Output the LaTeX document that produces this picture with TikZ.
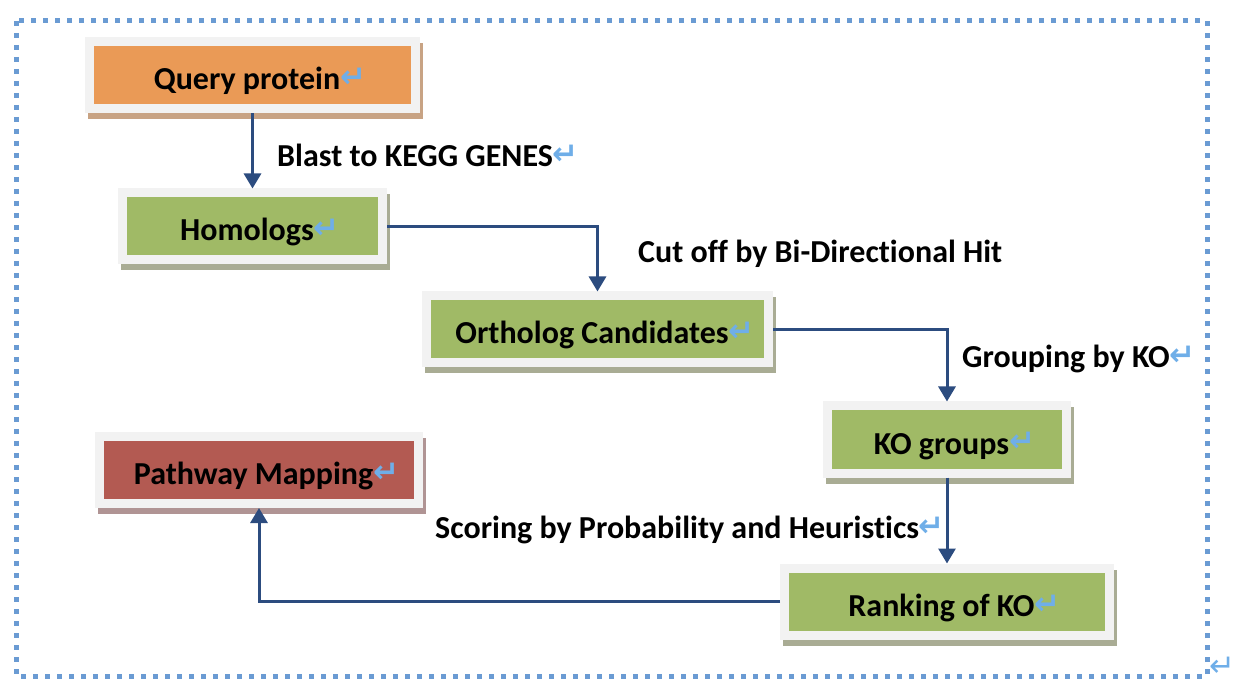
\documentclass[tikz,border=0pt]{standalone}
\usepackage{fontspec}
\setmainfont{Carlito}[Ligatures=NoCommon]
\newfontfamily\markfont{DejaVu Sans}
\usepackage{xcolor}
\usetikzlibrary{positioning, calc, shadows, arrows.meta}
\definecolor{keggorange}{RGB}{234, 154, 86}
\definecolor{keggorangeshade}{RGB}{200, 163, 132}
\definecolor{kegggreen}{RGB}{160, 186, 102}
\definecolor{kegggreenshade}{RGB}{169, 172, 148}
\definecolor{keggred}{RGB}{179, 90, 82}
\definecolor{keggredshade}{RGB}{176, 148, 148}
\definecolor{framegrey}{RGB}{242, 242, 242}
\definecolor{flowblue}{RGB}{44, 76, 127}
\definecolor{dotblue}{RGB}{106, 155, 211}
\definecolor{markblue}{RGB}{111, 174, 232}
\newcommand{\retmark}{\raisebox{2pt}{\markfont\fontsize{31}{31}\selectfont\textcolor{markblue}{↵}}}

\begin{document}
\begin{tikzpicture}[x=1pt, y=-1pt,
        box/.style={rectangle, draw=framegrey, line width=9pt, minimum height=67pt, inner sep=0pt,
            text height=29pt, text depth=0pt, font=\fontsize{32}{38}\selectfont\bfseries,
            execute at begin node={\hspace*{15pt}}},
        orangebox/.style={box, fill=keggorange, drop shadow={shadow xshift=3pt, shadow yshift=-6pt,
            fill=keggorangeshade, draw=keggorangeshade, line width=9pt, opacity=1}},
        greenbox/.style={box, fill=kegggreen, drop shadow={shadow xshift=3pt, shadow yshift=-6pt,
            fill=kegggreenshade, draw=kegggreenshade, line width=9pt, opacity=1}},
        redbox/.style={box, fill=keggred, drop shadow={shadow xshift=3pt, shadow yshift=-6pt,
            fill=keggredshade, draw=keggredshade, line width=9pt, opacity=1}},
        lbl/.style={inner sep=0pt, anchor=base west, font=\fontsize{32}{38}\selectfont\bfseries},
        flow/.style={draw=flowblue, line width=3pt, -{Triangle[width=17pt, length=15pt]}},
        dotframe/.style={draw=dotblue, line width=5pt, dash pattern=on 5pt off 7pt}]

        \useasboundingbox (0,0) rectangle (1240,692);

        % Frame
        \draw [dotframe] (16,21) rectangle (1207,676);
        \node [inner sep=0pt] (endmark) at (1222,668) {\retmark};

        % Boxes
        \node [orangebox, minimum width=326pt] (query) at (252.5,75.5) {Query protein\retmark};
        \node [greenbox, minimum width=260pt, below=75pt of query] (homologs) {Homologs\retmark};
        \node [greenbox, minimum width=342pt, below right=27pt and 35pt of homologs] (ortholog) {Ortholog Candidates\retmark};
        \node [greenbox, minimum width=239pt, below right=34pt and 50pt of ortholog] (kogroups) {KO groups\retmark};
        \node [greenbox, minimum width=325pt, below=86pt of kogroups] (ranking) {Ranking of KO\retmark};
        \node [redbox, minimum width=319pt] (pathway) at (259,470) {Pathway Mapping\retmark};

        % Arrows
        \path [flow] (query) -- (homologs);
        \path [flow] (homologs.east) -| (ortholog.north);
        \path [flow] (ortholog.east) -| (kogroups.north);
        \path [flow] (kogroups) -- (ranking);
        \path [flow] (ranking.west) -| (pathway.south);

        % Labels
        \node [lbl] (blast) at (277,167) {Blast to KEGG GENES\retmark};
        \node [lbl] (cutoff) at (638,263) {Cut off by Bi-Directional Hit};
        \node [lbl] (grouping) at (962,368) {Grouping by KO\retmark};
        \node [lbl] (scoring) at (435,538) {Scoring by Probability and Heuristics\retmark};
    \end{tikzpicture}
\end{document}
